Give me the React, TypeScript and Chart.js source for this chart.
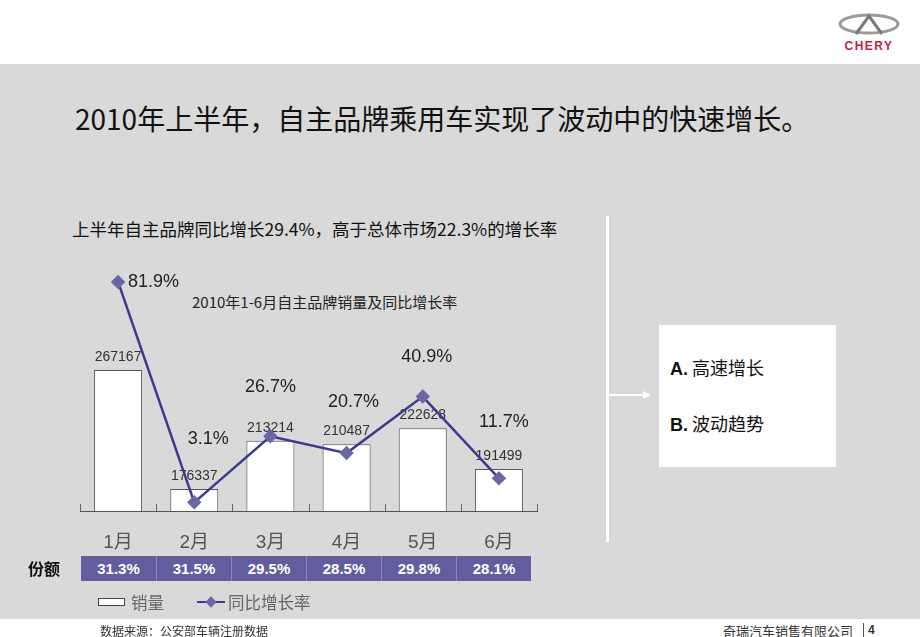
import React, { useEffect, useRef } from "react";
import { Chart, registerables } from "chart.js";

Chart.register(...registerables);

// ---- data ----
const MONTHS = ["1月", "2月", "3月", "4月", "5月", "6月"];
const SALES = [267167, 176337, 213214, 210487, 222628, 191499];
const GROWTH = [81.9, 3.1, 26.7, 20.7, 40.9, 11.7];
const SHARE = ["31.3%", "31.5%", "29.5%", "28.5%", "29.8%", "28.1%"];
const SALES_LABEL = "销量";
const GROWTH_LABEL = "同比增长率";
// label placement relative to each line point: [dx, dy, align]
const GROWTH_LABEL_OFFSETS: [number, number, CanvasTextAlign][] = [
  [10, 0, "left"],
  [14, -63, "center"],
  [0, -49, "center"],
  [7, -51, "center"],
  [4, -40, "center"],
  [5, -56, "center"],
];

const CJK = "'Noto Sans CJK SC', 'Noto Sans', sans-serif";
const ARIAL = "'Liberation Sans', Arial, 'Noto Sans CJK SC', sans-serif";
const LINE_COLOR = "#3b3a8c";
const MARKER_COLOR = "#6b67a6";
const TABLE_COLOR = "#625e9e";
const BG = "#d9d9d9";

const labelPlugin = {
  id: "valueLabels",
  beforeDatasetsDraw(chart: any) {
    const ctx = chart.ctx;
    const xs = chart.scales.x;
    const area = chart.chartArea;
    const n = MONTHS.length;
    const w = (xs.right - xs.left) / n;
    ctx.save();
    ctx.strokeStyle = "#666";
    ctx.lineWidth = 1;
    for (let i = 0; i <= n; i++) {
      const x = Math.round(xs.left + i * w) + 0.5;
      ctx.beginPath();
      ctx.moveTo(x, area.bottom - 7);
      ctx.lineTo(x, area.bottom);
      ctx.stroke();
    }
    ctx.restore();
  },
  afterDatasetDraw(chart: any, args: any) {
    if (args.index !== 0) return;
    const ctx = chart.ctx;
    const meta = chart.getDatasetMeta(0);
    ctx.save();
    ctx.font = `14px ${ARIAL}`;
    ctx.fillStyle = "#333";
    ctx.textAlign = "center";
    ctx.textBaseline = "middle";
    meta.data.forEach((el: any, i: number) => {
      ctx.fillText(String(SALES[i]), el.x, el.y - 13);
    });
    ctx.restore();
  },
  afterDatasetsDraw(chart: any) {
    const ctx = chart.ctx;
    const meta = chart.getDatasetMeta(1);
    ctx.save();
    ctx.font = `18px ${ARIAL}`;
    ctx.fillStyle = "#222";
    ctx.textBaseline = "middle";
    meta.data.forEach((el: any, i: number) => {
      const [dx, dy, align] = GROWTH_LABEL_OFFSETS[i];
      ctx.textAlign = align;
      ctx.fillText(GROWTH[i].toFixed(1) + "%", el.x + dx, el.y + dy);
    });
    ctx.restore();
  },
};

function SalesChart() {
  const ref = useRef<HTMLCanvasElement | null>(null);
  useEffect(() => {
    if (!ref.current) return;
    const chart = new Chart(ref.current, {
      type: "bar",
      data: {
        labels: MONTHS,
        datasets: [
          {
            type: "bar",
            label: SALES_LABEL,
            data: SALES,
            backgroundColor: "#ffffff",
            borderColor: "#555",
            borderWidth: 1,
            categoryPercentage: 1,
            barPercentage: 0.63,
            yAxisID: "y",
            order: 1,
          } as any,
          {
            type: "line",
            label: GROWTH_LABEL,
            data: GROWTH,
            borderColor: LINE_COLOR,
            borderWidth: 2.5,
            pointStyle: "rectRot",
            pointRadius: 5.5,
            pointBackgroundColor: MARKER_COLOR,
            pointBorderColor: MARKER_COLOR,
            tension: 0,
            yAxisID: "y1",
            order: 0,
          } as any,
        ],
      },
      options: {
        animation: false,
        responsive: false,
        maintainAspectRatio: false,
        layout: { padding: { top: 11, left: 20, right: 23, bottom: 0 } },
        plugins: {
          legend: { display: false },
          tooltip: { enabled: false },
          title: { display: false },
        },
        scales: {
          x: {
            grid: { display: false, drawTicks: false },
            border: { display: true, color: "#555", width: 1 },
            ticks: {
              padding: 20,
              color: "#555",
              font: { size: 19, family: ARIAL },
            },
            afterFit: (scale: any) => {
              scale.height = 49;
            },
          },
          y: { display: false, min: 159500, max: 342800 },
          y1: { display: false, min: 0, max: 85.8, position: "right" },
        },
      },
      plugins: [labelPlugin],
    });
    return () => chart.destroy();
  }, []);
  return (
    <canvas
      ref={ref}
      width={500}
      height={300}
      style={{ position: "absolute", left: 60, top: 260, width: 500, height: 300 }}
    />
  );
}

export default function App() {
  const abs = (s: React.CSSProperties): React.CSSProperties => ({ position: "absolute", ...s });
  return (
    <div style={abs({ left: 0, top: 0, width: 920, height: 637, background: "#fff", overflow: "hidden", fontFamily: CJK })}>
      {/* logo */}
      <svg style={abs({ left: 836, top: 10, width: 66, height: 44 })} viewBox="0 0 66 44">
        <ellipse cx="33" cy="14" rx="29" ry="9" fill="none" stroke="#9a9a9a" strokeWidth="3" />
        <path d="M20 24 L33 6 L46 24" fill="none" stroke="#7a7a7a" strokeWidth="3" />
        <text x="33" y="40" textAnchor="middle" fontFamily={ARIAL} fontWeight="bold" fontSize="12" fill="#c41f3c" letterSpacing="1.5">
          CHERY
        </text>
      </svg>
      {/* gray panel */}
      <div style={abs({ left: 0, top: 64, width: 920, height: 555, background: BG })} />
      <div style={abs({ left: 75, top: 98, fontSize: 28, color: "#111", whiteSpace: "nowrap", lineHeight: "40px" })}>
        2010年上半年，自主品牌乘用车实现了波动中的快速增长。
      </div>
      <div style={abs({ left: 72, top: 217, fontSize: 17.5, color: "#111", whiteSpace: "nowrap", lineHeight: "24px" })}>
        上半年自主品牌同比增长29.4%，高于总体市场22.3%的增长率
      </div>
      <div style={abs({ left: 192, top: 292, fontSize: 15, color: "#222", whiteSpace: "nowrap", lineHeight: "20px" })}>
        2010年1-6月自主品牌销量及同比增长率
      </div>
      <SalesChart />
      {/* share row */}
      <div style={abs({ left: 28, top: 556, fontSize: 16, fontWeight: "bold", color: "#111", lineHeight: "25px" })}>份额</div>
      <div style={abs({ left: 81, top: 556, width: 450, height: 25, background: TABLE_COLOR, display: "flex" })}>
        {SHARE.map((s, i) => (
          <div
            key={i}
            style={{
              width: 75,
              height: 25,
              lineHeight: "25px",
              textAlign: "center",
              color: "#fff",
              fontWeight: "bold",
              fontSize: 15,
              fontFamily: ARIAL,
              borderLeft: i > 0 ? "1px solid #8985b8" : "none",
              boxSizing: "border-box",
            }}
          >
            {s}
          </div>
        ))}
      </div>
      {/* legend */}
      <div style={abs({ left: 98, top: 598, width: 27, height: 8, background: "#fff", border: "1px solid #444", boxSizing: "border-box" })} />
      <div style={abs({ left: 131, top: 591, fontSize: 16.5, color: "#666", lineHeight: "22px" })}>{SALES_LABEL}</div>
      <div style={abs({ left: 197, top: 601, width: 28, height: 2, background: LINE_COLOR })} />
      <div style={abs({ left: 207, top: 598, width: 8, height: 8, background: MARKER_COLOR, transform: "rotate(45deg)" })} />
      <div style={abs({ left: 228, top: 591, fontSize: 16.5, color: "#666", lineHeight: "22px" })}>{GROWTH_LABEL}</div>
      {/* right panel */}
      <div style={abs({ left: 606, top: 216, width: 3, height: 326, background: "#fff" })} />
      <div style={abs({ left: 609, top: 394, width: 36, height: 2, background: "#fff" })} />
      <div style={abs({ left: 643, top: 391, width: 0, height: 0, borderTop: "4px solid transparent", borderBottom: "4px solid transparent", borderLeft: "8px solid #fff" })} />
      <div style={abs({ left: 659, top: 325, width: 177, height: 142, background: "#fff" })} />
      <div style={abs({ left: 670, top: 355, fontSize: 18, color: "#111", lineHeight: "24px", whiteSpace: "nowrap" })}>
        <span style={{ fontFamily: ARIAL, fontWeight: "bold" }}>A.</span> 高速增长
      </div>
      <div style={abs({ left: 670, top: 411, fontSize: 18, color: "#111", lineHeight: "24px", whiteSpace: "nowrap" })}>
        <span style={{ fontFamily: ARIAL, fontWeight: "bold" }}>B.</span> 波动趋势
      </div>
      {/* footer */}
      <div style={abs({ left: 100, top: 623, fontSize: 12, color: "#333", lineHeight: "16px", whiteSpace: "nowrap" })}>
        数据来源：公安部车辆注册数据
      </div>
      <div style={abs({ left: 723, top: 622, fontSize: 13, color: "#333", lineHeight: "17px", whiteSpace: "nowrap" })}>
        奇瑞汽车销售有限公司
      </div>
      <div style={abs({ left: 863, top: 623, width: 1, height: 14, background: "#555" })} />
      <div style={abs({ left: 868, top: 622, fontSize: 12, fontWeight: "bold", color: "#333", lineHeight: "17px", fontFamily: ARIAL })}>4</div>
    </div>
  );
}
